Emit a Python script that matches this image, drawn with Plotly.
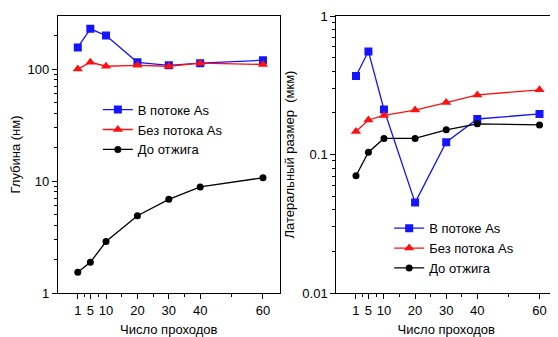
import plotly.graph_objects as go

passes = [1, 5, 10, 20, 30, 40, 60]
tick_labels = ["1", "5", "10", "20", "30", "40", "60"]

depth_with_as = [156, 229, 199, 115, 108, 113, 120]
depth_without_as = [100, 115, 106, 108, 106, 113, 110]
depth_before = [1.53, 1.88, 2.88, 4.9, 6.86, 8.86, 10.7]

lat_with_as = [0.37, 0.557, 0.212, 0.045, 0.123, 0.181, 0.197]
lat_without_as = [0.147, 0.178, 0.192, 0.21, 0.238, 0.27, 0.294]
lat_before = [0.0703, 0.104, 0.131, 0.131, 0.151, 0.167, 0.164]

names = ["В потоке As", "Без потока As", "До отжига"]
colors = ["#1414ff", "#ff1010", "#000000"]
symbols = ["square", "triangle-up", "circle"]
sizes = [8, 9, 7]

depth_minor = [m * 10 ** e for e in range(0, 3) for m in range(2, 10) if m * 10 ** e < 300]
lat_minor = [round(m * 10.0 ** e, 4) for e in (-2, -1) for m in range(2, 10)]

fig = go.Figure()
for i, ys in enumerate([depth_with_as, depth_without_as, depth_before]):
    fig.add_trace(go.Scatter(x=passes, y=ys, mode="lines+markers", name=names[i],
                             line=dict(color=colors[i], width=1.3),
                             marker=dict(symbol=symbols[i], size=sizes[i], color=colors[i]),
                             xaxis="x", yaxis="y", legend="legend"))
for i, ys in enumerate([lat_with_as, lat_without_as, lat_before]):
    fig.add_trace(go.Scatter(x=passes, y=ys, mode="lines+markers", name=names[i],
                             line=dict(color=colors[i], width=1.3),
                             marker=dict(symbol=symbols[i], size=sizes[i], color=colors[i]),
                             xaxis="x2", yaxis="y2", legend="legend2"))

font = "Liberation Sans, Arial, sans-serif"
xcommon = dict(range=[-5.3, 65.3], tickmode="array", tickvals=passes, ticktext=tick_labels,
               ticks="outside", ticklen=5, tickwidth=1, tickcolor="#000",
               showline=True, linecolor="#000", linewidth=1.3, mirror=True,
               showgrid=False, zeroline=False,
               tickfont=dict(size=13, color="#000", family=font),
               minor=dict(tickmode="array", tickvals=[3, 7.5, 15, 25, 35, 50],
                          ticks="outside", ticklen=3, tickcolor="#000"),
               title=dict(text="Число проходов", font=dict(size=13, color="#000", family=font),
                          standoff=8))
ycommon = dict(type="log", ticks="outside", ticklen=5, tickwidth=1, tickcolor="#000",
               showline=True, linecolor="#000", linewidth=1.3, mirror=True,
               showgrid=False, zeroline=False, ticklabeloverflow="allow",
               tickfont=dict(size=13, color="#000", family=font))

# page body has an 8px default margin, so the figure is sized/offset to compensate
fig.update_layout(
    width=550, height=329,
    margin=dict(l=50, r=1, t=4, b=44),
    paper_bgcolor="white", plot_bgcolor="white",
    font=dict(family=font, color="#000"),
    xaxis=dict(domain=[0, 0.445], anchor="y", **xcommon),
    xaxis2=dict(domain=[0.559, 1], anchor="y2", **xcommon),
    yaxis=dict(domain=[0, 1], anchor="x", range=[0, 2.474],
               tickmode="array", tickvals=[1, 10, 100], ticktext=["1", "10", "100"],
               minor=dict(tickmode="array", tickvals=depth_minor, ticks="outside",
                          ticklen=3, tickcolor="#000", showgrid=False),
               title=dict(text="Глубина (нм)", font=dict(size=13, color="#000", family=font), standoff=6),
               **ycommon),
    yaxis2=dict(domain=[0, 1], anchor="x2", range=[-2, 0.002],
                tickmode="array", tickvals=[0.01, 0.1, 1], ticktext=["0.01", "0.1", "1"],
                minor=dict(tickmode="array", tickvals=lat_minor, ticks="outside",
                           ticklen=3, tickcolor="#000", showgrid=False),
                title=dict(text="Латеральный размер  (мкм)", font=dict(size=13, color="#000", family=font), standoff=4),
                **ycommon),
    legend=dict(x=0.080, y=0.716, xanchor="left", yanchor="top", bgcolor="rgba(0,0,0,0)",
                font=dict(size=13, color="#000", family=font), tracegroupgap=0, itemwidth=30),
    legend2=dict(x=0.665, y=0.288, xanchor="left", yanchor="top", bgcolor="rgba(0,0,0,0)",
                 font=dict(size=13, color="#000", family=font), tracegroupgap=0, itemwidth=30),
)

fig.write_html("out.html")
